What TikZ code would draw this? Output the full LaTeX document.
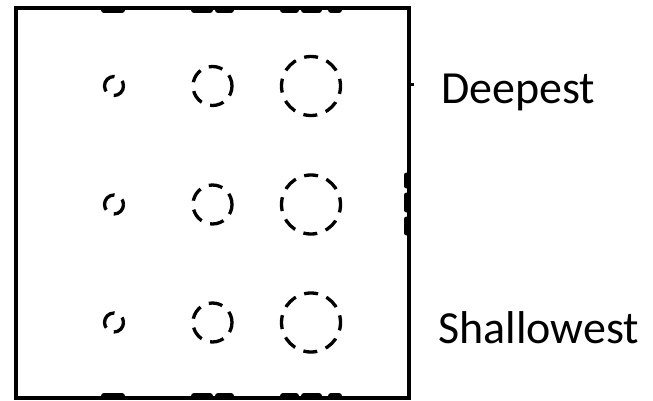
\documentclass[tikz,border=0pt]{standalone}
\usepackage{fontspec}
\setmainfont{Carlito}
\begin{document}
\begin{tikzpicture}[x=1pt,y=-1pt,
  frame/.style={line width=4.8pt},
  ring/.style={line width=3.3pt,dash pattern=on 14pt off 9pt},
  smallring/.style={line width=3.3pt,dash pattern=on 21pt off 9pt,dash phase=6pt},
  edgemark/.style={line width=6pt,line cap=round},
  lbl/.style={inner sep=0pt,anchor=base west,font=\fontsize{46}{55}\selectfont}]
\useasboundingbox (0,0) rectangle (653,401);
\fill[white] (0,0) rectangle (653,401);
% frame
\draw[frame] (16,8) rectangle (409,398);
% circles
\foreach \y in {86,204.5,322.5}{
  \draw[smallring] (114,\y) circle[radius=9.5];
  \draw[ring,dash phase=4pt] (212.5,\y) circle[radius=19.5];
  \draw[ring,dash phase=6pt] (311,\y) circle[radius=29.5];
}
% marks on top and bottom edges
\foreach \yy in {10,396}{
  \draw[edgemark] (104,\yy) -- (122,\yy);
  \draw[edgemark] (194,\yy) -- (210,\yy);
  \draw[edgemark] (218,\yy) -- (231,\yy);
  \draw[edgemark] (283,\yy) -- (296,\yy);
  \draw[edgemark] (304,\yy) -- (319,\yy);
  \draw[edgemark] (331,\yy) -- (339,\yy);
}
% marks on right edge
\draw[line width=3pt] (409,85) -- (414,85);
\draw[edgemark,line width=5pt] (406.5,175) -- (406.5,186);
\draw[edgemark,line width=5pt] (406.5,195) -- (406.5,210);
\draw[edgemark,line width=5pt] (406.5,219) -- (406.5,233);
% labels
\node[lbl] (deep) at (441,103.3) {Deepest};
\node[lbl] (shal) at (438,343.3) {Shallowest};
\end{tikzpicture}
\end{document}
